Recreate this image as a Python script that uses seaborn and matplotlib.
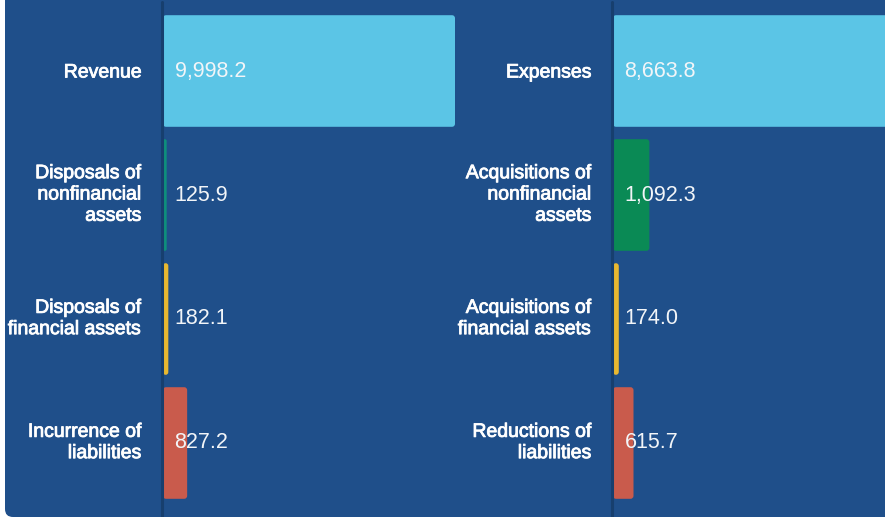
import matplotlib
matplotlib.use("Agg")
import matplotlib.pyplot as plt
from matplotlib.patches import FancyBboxPatch
from matplotlib.lines import Line2D
import matplotlib.patheffects as pe
import seaborn as sns
import pandas as pd

# ---- data ----
left_categories = ["Revenue", "Disposals of\nnonfinancial\nassets",
                   "Disposals of\nfinancial assets", "Incurrence of\nliabilities"]
left_values = [9998.2, 125.9, 182.1, 827.2]
right_categories = ["Expenses", "Acquisitions of\nnonfinancial\nassets",
                    "Acquisitions of\nfinancial assets", "Reductions of\nliabilities"]
right_values = [8663.8, 1092.3, 174.0, 615.7]
left_colors = ["#5bc5e6", "#0e8f7c", "#e8b830", "#c95b4c"]
right_colors = ["#5bc5e6", "#0a8a55", "#e8b830", "#c95b4c"]

BG = "#1f4f8a"
AXIS = "#173f6e"

sns.set_theme(style="white")
plt.rcParams["font.family"] = ["Liberation Sans", "DejaVu Sans"]

W, H = 885, 517
fig = plt.figure(figsize=(W / 100, H / 100), dpi=100)
fig.patch.set_facecolor("white")

bg = FancyBboxPatch((0.05, 0.0), 10.0, 6.0,
                    boxstyle="round,pad=0,rounding_size=0.08",
                    transform=fig.dpi_scale_trans, facecolor=BG,
                    edgecolor="none", zorder=-5)
fig.add_artist(bg)

top_px, bot_px = 9, 505
y0 = (H - bot_px) / H
hgt = (bot_px - top_px) / H


def panel(x_px, w_px, scale, cats, vals, cols):
    ax = fig.add_axes([x_px / W, y0, w_px / W, hgt])
    df = pd.DataFrame({"cat": cats, "val": vals})
    sns.barplot(data=df, x="val", y="cat", hue="cat", palette=cols,
                width=0.9, ax=ax, legend=False, saturation=1,
                linewidth=0, edgecolor="none")
    xmax = w_px / scale
    ax.set_xlim(0, xmax)
    ax.set_ylim(len(cats) - 0.5, -0.5)
    # rounded bar corners (~3 px)
    xpp = xmax / w_px
    ypp = len(cats) / (bot_px - top_px)
    for p in list(ax.patches):
        x, y = p.get_x(), p.get_y()
        w, h = p.get_width(), p.get_height()
        wpx = w / xpp
        r_px = min(3.0, wpx / 2.0)
        fb = FancyBboxPatch((x, y), w, h,
                            boxstyle=f"round,pad=0,rounding_size={r_px * xpp}",
                            mutation_aspect=ypp / xpp,
                            facecolor=p.get_facecolor(), edgecolor="none",
                            linewidth=0, clip_on=True)
        p.set_visible(False)
        ax.add_patch(fb)
    ax.set_facecolor("none")
    for s in ax.spines.values():
        s.set_visible(False)
    ax.set_xlabel("")
    ax.set_ylabel("")
    ax.set_xticks([])
    ax.tick_params(axis="y", length=0, pad=15.1, labelcolor="white",
                   labelsize=14)
    for lab in ax.get_yticklabels():
        lab.set_linespacing(1.33)
        lab.set_path_effects([pe.withStroke(linewidth=0.6, foreground="white")])
        if "\n" in lab.get_text():
            lab.set_verticalalignment("center")
    for i, v in enumerate(vals):
        ax.annotate(f"{v:,.1f}", xy=(0, i), xytext=(8.3, 0),
                    textcoords="offset points", ha="left", va="center",
                    color="#f2f5f8", fontsize=15.5)
    fig.add_artist(Line2D([(x_px - 1.5) / W] * 2, [0, (H - 2) / H],
                          color=AXIS, linewidth=2.2, zorder=3))
    return ax


panel(163, 300, 292 / 9998.2, left_categories, left_values, left_colors)
panel(613, 272, 0.0333, right_categories, right_values, right_colors)

fig.savefig("out.png", dpi=100, facecolor=fig.get_facecolor())
